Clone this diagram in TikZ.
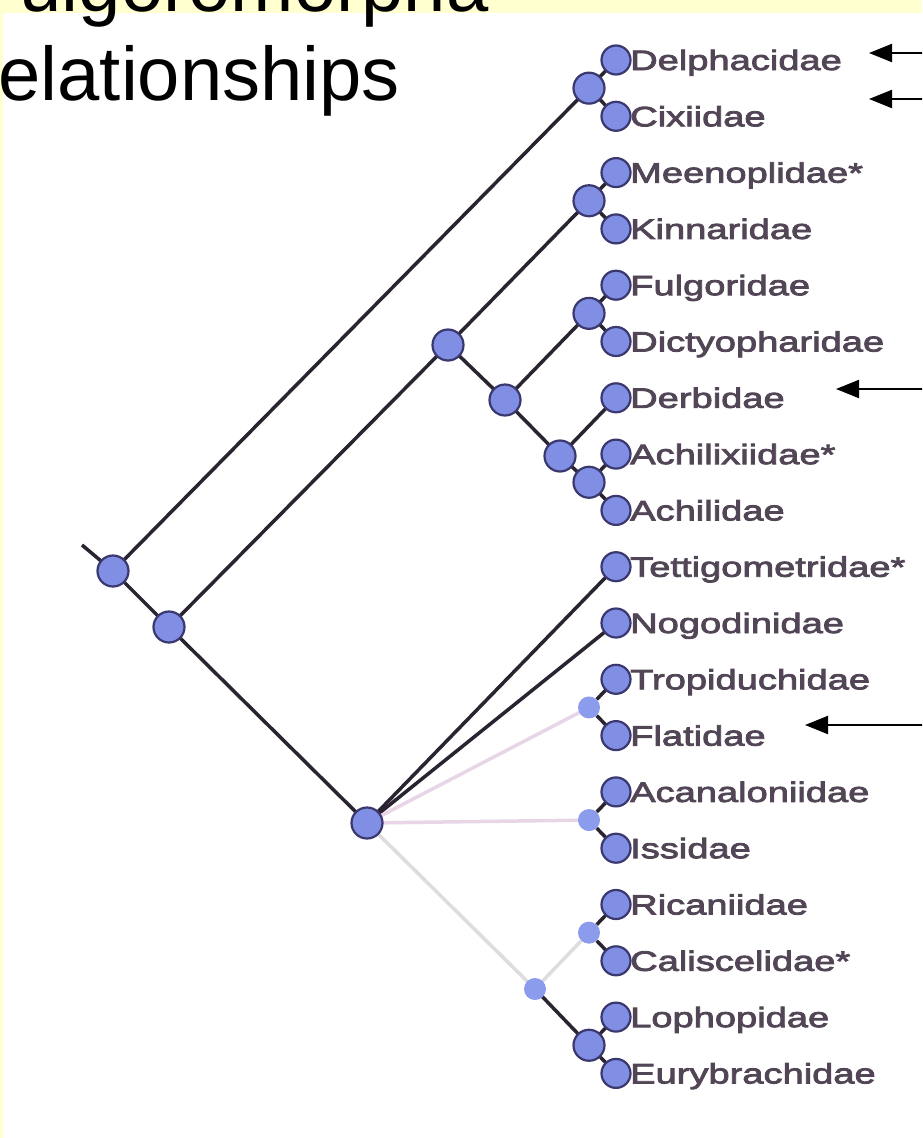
\documentclass[tikz,border=0pt]{standalone}
\usepackage{fontspec}
\setmainfont{Liberation Sans}
\newfontfamily\labfont{Liberation Sans}[FakeStretch=1.36,FakeBold=3]
\usetikzlibrary{arrows.meta}
\definecolor{bgyellow}{RGB}{255,255,208}
\definecolor{nodefill}{RGB}{128,142,228}
\definecolor{nodeline}{RGB}{58,56,110}
\definecolor{branchc}{RGB}{42,36,48}
\definecolor{pinkline}{RGB}{232,214,230}
\definecolor{greyline}{RGB}{222,220,222}
\definecolor{lightdot}{RGB}{140,156,236}
\definecolor{labelc}{RGB}{82,70,86}
\pgfdeclarelayer{back}
\pgfdeclarelayer{lines}
\pgfsetlayers{back,lines,main}
\begin{document}
\begin{tikzpicture}[x=1pt,y=-1pt,
  bubble/.style={circle,fill=nodefill,draw=nodeline,line width=2.2pt,minimum size=31pt,inner sep=0pt},
  leaf/.style={bubble,minimum size=29pt},
  ghost/.style={circle,fill=lightdot,minimum size=22pt,inner sep=0pt},
  branch/.style={draw=branchc,line width=3.5pt},
  pinkbranch/.style={draw=pinkline,line width=3.5pt},
  greybranch/.style={draw=greyline,line width=3.5pt},
  lab/.style={anchor=base west,inner sep=0pt,text=labelc,font=\labfont\fontsize{28}{30}\selectfont},
  pointer/.style={draw=black,line width=2pt,-{Triangle[length=23pt,width=18pt]}},
  titletext/.style={anchor=base west,inner sep=0pt,font=\fontsize{76}{90}\selectfont}
]
\useasboundingbox (0,0) rectangle (922,1138);
\clip (0,0) rectangle (922,1138);
\begin{pgfonlayer}{back}
\fill[bgyellow] (0,0) rectangle (922,1138);
\fill[white] (3,13) rectangle (922,1138);
\end{pgfonlayer}

% leaves and labels
\foreach \n [count=\i from 0] in {Delphacidae,Cixiidae,Meenoplidae*,Kinnaridae,Fulgoridae,Dictyopharidae,Derbidae,Achilixiidae*,Achilidae,Tettigometridae*,Nogodinidae,Tropiduchidae,Flatidae,Acanaloniidae,Issidae,Ricaniidae,Caliscelidae*,Lophopidae,Eurybrachidae}{
  \node[leaf] (l\i) at (616,{60+56.3*\i}) {};
  \node[lab] (t\i) at (630,{70+56.3*\i}) {\n};
}

% pair nodes
\node[bubble] (p01) at (589,88.15) {};
\node[bubble] (p23) at (589,200.75) {};
\node[bubble] (p45) at (589,313.35) {};
\node[bubble] (p78) at (589,482.25) {};
\node[ghost] (p1112) at (589,707.45) {};
\node[ghost] (p1314) at (589,820.05) {};
\node[ghost] (p1516) at (589,932.65) {};
\node[bubble] (p1718) at (589,1045.25) {};

% internal nodes
\coordinate (root) at (82,545);
\node[bubble] (A) at (113,571) {};
\node[bubble] (B) at (169,627) {};
\node[bubble] (C) at (448,345) {};
\node[bubble] (D) at (505,400) {};
\node[bubble] (E) at (560,456) {};
\node[bubble] (T) at (367,823) {};
\node[ghost] (R) at (535,989) {};

\begin{pgfonlayer}{lines}
\draw[branch] (root) -- (A.center);
\draw[branch] (A.center) -- (p01.center);
\draw[branch] (A.center) -- (B.center);
\draw[branch] (B.center) -- (C.center);
\draw[branch] (B.center) -- (T.center);
\draw[branch] (C.center) -- (p23.center);
\draw[branch] (C.center) -- (D.center);
\draw[branch] (D.center) -- (p45.center);
\draw[branch] (D.center) -- (E.center);
\draw[branch] (E.center) -- (l6.center);
\draw[branch] (E.center) -- (p78.center);
\draw[branch] (T.center) -- (l9.center);
\draw[branch] (T.center) -- (l10.center);
\draw[pinkbranch] (T.center) -- (p1112.center);
\draw[pinkbranch] (T.center) -- (p1314.center);
\draw[greybranch] (T.center) -- (R.center);
\draw[greybranch] (R.center) -- (p1516.center);
\draw[branch] (R.center) -- (p1718.center);
\draw[branch] (p01.center) -- (l0.center);
\draw[branch] (p01.center) -- (l1.center);
\draw[branch] (p23.center) -- (l2.center);
\draw[branch] (p23.center) -- (l3.center);
\draw[branch] (p45.center) -- (l4.center);
\draw[branch] (p45.center) -- (l5.center);
\draw[branch] (p78.center) -- (l7.center);
\draw[branch] (p78.center) -- (l8.center);
\draw[branch] (p1112) -- (l11.center);
\draw[branch] (p1112) -- (l12.center);
\draw[branch] (p1314) -- (l13.center);
\draw[branch] (p1314) -- (l14.center);
\draw[branch] (p1516) -- (l15.center);
\draw[branch] (p1516) -- (l16.center);
\draw[branch] (p1718.center) -- (l17.center);
\draw[branch] (p1718.center) -- (l18.center);
\end{pgfonlayer}

% pointer arrows
\coordinate (a1s) at (930,53);  \coordinate (a1e) at (869,53);
\coordinate (a2s) at (930,99);  \coordinate (a2e) at (869,99);
\coordinate (a3s) at (930,389); \coordinate (a3e) at (836,389);
\coordinate (a4s) at (930,725); \coordinate (a4e) at (805,725);
\draw[pointer] (a1s) -- (a1e);
\draw[pointer] (a2s) -- (a2e);
\draw[pointer] (a3s) -- (a3e);
\draw[pointer] (a4s) -- (a4e);

% title (cut off by the frame)
\node[titletext] (title1) at (-27,11) {Fulgoromorpha};
\node[titletext] (title2) at (-27,100) {relationships};
\end{tikzpicture}
\end{document}
